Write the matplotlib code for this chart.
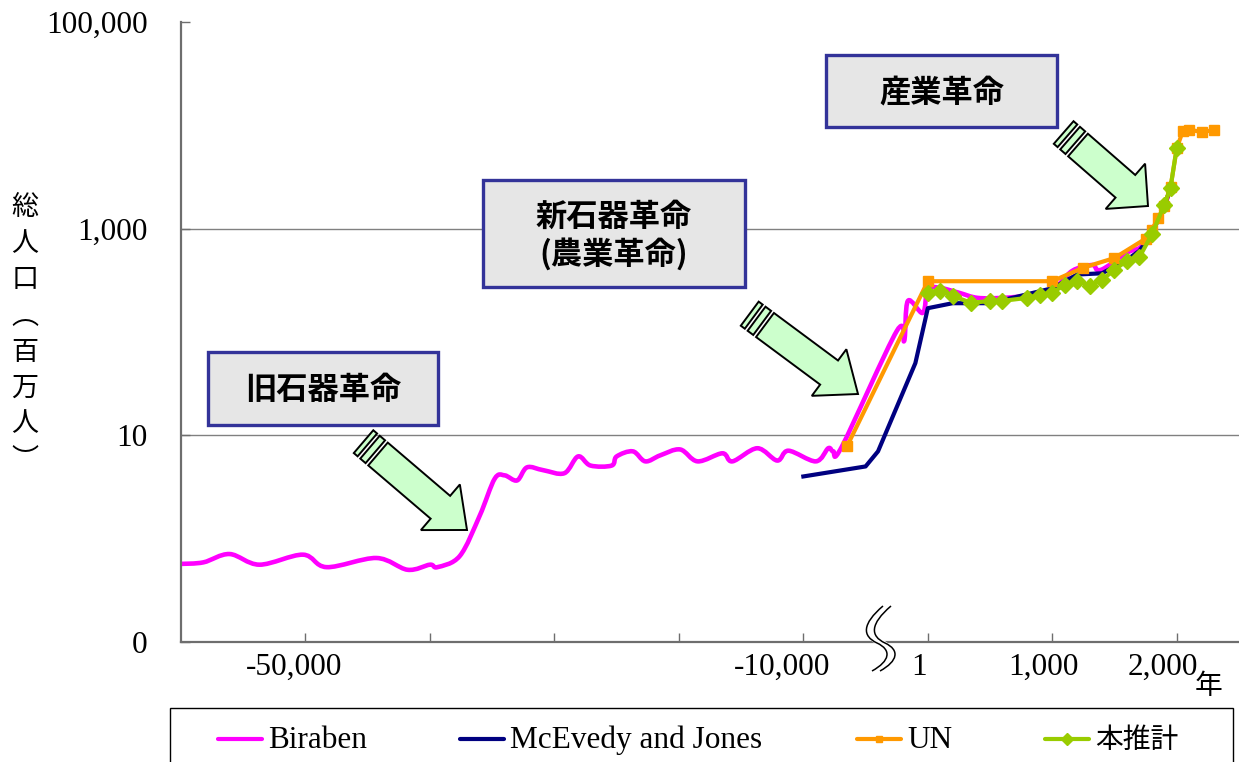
import matplotlib
matplotlib.use("Agg")
import matplotlib.pyplot as plt
import numpy as np
from matplotlib.lines import Line2D
from matplotlib.patches import PathPatch, Polygon, Rectangle
from matplotlib.path import Path
from matplotlib.transforms import Affine2D, ScaledTranslation

W, H, DPI = 1239, 762, 100

# population in millions, years (negative = BC)
biraben_year = [-60000, -58200, -56100, -53700, -50200, -48300, -44300, -41800, -40000, -39400,
                -37600, -36000, -34800, -34000, -33000, -32200, -30900, -29200, -28100, -27100,
                -25400, -25000, -23700, -22700, -21500, -19900, -18500, -16500, -15700, -13700,
                -12100, -11200, -9000, -8000, -7600, -6900, -2500, -1900, -1600, -400,
                1, 100, 250, 400, 600, 800, 1000, 1160, 1320, 1360,
                1420, 1600, 1700, 1750, 1800, 1850, 1900, 1950]
biraben_pop = [0.57, 0.59, 0.71, 0.56, 0.70, 0.53, 0.65, 0.50, 0.56, 0.53,
               0.68, 1.67, 3.8, 4.1, 3.66, 4.9, 4.6, 4.3, 6.25, 5.1,
               5.1, 6.25, 7.0, 5.6, 6.4, 7.3, 5.6, 6.7, 5.6, 7.5,
               5.7, 7.1, 5.6, 7.5, 7.0, 7.8, 102, 82, 200, 153,
               260, 267, 240, 214, 214, 225, 255, 390, 445, 400,
               415, 585, 650, 770, 950, 1240, 1630, 2500]

mcevedy_year = [-10000, -5000, -4000, -1000, 1, 200, 500, 1000, 1200, 1400, 1600, 1700, 1800, 1900, 1950]
mcevedy_pop = [4.0, 5.0, 7.0, 50, 170, 190, 190, 265, 360, 370, 500, 610, 900, 1625, 2500]

un_year = [-6500, 1, 1000, 1250, 1500, 1750, 1800, 1850, 1900, 1950, 2000, 2050, 2100, 2200, 2300]
un_pop = [7.8, 310, 310, 420, 520, 800, 980, 1260, 1650, 2520, 6000, 8900, 9100, 8600, 9000]

est_year = [1, 100, 200, 350, 500, 600, 800, 900, 1000, 1100, 1200, 1300, 1400, 1500, 1600,
            1700, 1800, 1900, 1950, 2000]
est_pop = [240, 250, 224, 191, 200, 200, 214, 228, 240, 286, 313, 280, 320, 400, 490,
           530, 880, 1700, 2500, 6100]

x_ticks = [-50000, -40000, -30000, -20000, -10000, 1, 1000, 2000]
x_tick_labels = ["-50,000", "", "", "", "-10,000", "1", "1,000", "2,000"]
x_label_nudge = [-11, 0, 0, 0, -21, -9, -9, -14]  # px
y_ticks = [0.1, 10, 1000, 100000]
y_tick_labels = ["0", "10", "1,000", "100,000"]

series_names = ["Biraben", "McEvedy and Jones", "UN", "本推計"]

# broken time axis: 10,000-year steps, then a gap, then 1,000-year steps
YEAR_BREAKS = [-60000, -10000, 1, 2000, 3000]
AXIS_UNITS = [0, 5, 6, 8, 9]


def year_to_axis(x):
    return np.interp(x, YEAR_BREAKS, AXIS_UNITS)


def axis_to_year(u):
    return np.interp(u, AXIS_UNITS, YEAR_BREAKS)


def smooth_path(years, values):
    # Excel-style smoothed line: Catmull-Rom segments as cubic Beziers,
    # built in the scaled (axis, log10) space and mapped back to data.
    p = np.column_stack([year_to_axis(np.asarray(years, float)), np.log10(values)])
    p = np.vstack([p[0], p, p[-1]])
    verts = [p[1]]
    codes = [Path.MOVETO]
    for i in range(1, len(p) - 2):
        c1 = p[i] + (p[i + 1] - p[i - 1]) / 6.0
        c2 = p[i + 1] - (p[i + 2] - p[i]) / 6.0
        verts += [c1, c2, p[i + 1]]
        codes += [Path.CURVE4] * 3
    verts = np.asarray(verts)
    data = np.column_stack([axis_to_year(verts[:, 0]), 10 ** verts[:, 1]])
    return Path(data, codes)


SERIF = "Liberation Serif"
JP = ["Noto Sans CJK JP", "DejaVu Sans"]
C_BIR, C_MCE, C_UN, C_EST = "#FF00FF", "#000080", "#FF9900", "#99CC00"
GRAY = "#6e6e6e"

fig = plt.figure(figsize=(W / DPI, H / DPI), dpi=DPI)
PIX = Affine2D().scale(1.0 / W, -1.0 / H).translate(0, 1) + fig.transFigure

ax = fig.add_axes([181 / W, 1 - 642 / H, (W - 181) / W, (642 - 22) / H])
ax.set_xscale("function", functions=(year_to_axis, axis_to_year))
ax.set_yscale("log")
ax.set_xlim(-60000, 2500)
ax.set_ylim(0.1, 100000)

for v in (10, 1000):
    ax.axhline(v, color="#808080", lw=1.0, zorder=0)

ax.add_patch(PathPatch(smooth_path(biraben_year, biraben_pop), fc="none", ec=C_BIR, lw=3.3,
                       joinstyle="round", capstyle="round", zorder=2))
ax.plot(mcevedy_year, mcevedy_pop, color=C_MCE, lw=3.0, solid_joinstyle="round", zorder=3)
ax.plot(un_year, un_pop, color=C_UN, lw=3.0, marker="s", ms=7, mec=C_UN, zorder=4)
ax.plot(est_year, est_pop, color=C_EST, lw=3.0, marker="D", ms=8.2, mec=C_EST, zorder=5)

for side in ("top", "right"):
    ax.spines[side].set_visible(False)
for side in ("left", "bottom"):
    ax.spines[side].set_color(GRAY)
    ax.spines[side].set_linewidth(1.6)

ax.minorticks_off()
ax.set_yticks(y_ticks, y_tick_labels)
ax.set_xticks(x_ticks, x_tick_labels)
ax.tick_params(axis="y", direction="in", length=6.5, width=1, color=GRAY, pad=24,
               labelsize=22.5, labelfontfamily=SERIF)
ax.tick_params(axis="x", direction="in", length=6.5, width=1, color=GRAY, pad=8,
               labelsize=22.5, labelfontfamily=SERIF)
for lbl, dx in zip(ax.get_xticklabels(), x_label_nudge):
    lbl.set_transform(lbl.get_transform() + ScaledTranslation(dx / DPI, 0, fig.dpi_scale_trans))

# axis break mark on the time axis
brk = Path([(883, 606), (862, 624), (862, 636), (877, 643), (892, 650), (890, 661), (872, 671)],
           [Path.MOVETO, Path.CURVE4, Path.CURVE4, Path.CURVE4, Path.CURVE4, Path.CURVE4, Path.CURVE4])
for dx, col, lw in ((4, "white", 5.0), (0, "black", 1.1), (8, "black", 1.1)):
    p = brk.transformed(Affine2D().translate(dx, 0))
    fig.add_artist(PathPatch(p, transform=PIX, fc="none", ec=col, lw=lw, clip_on=False, zorder=6))

# axis titles
fig.text(25, 334, "総\n人\n口\n︵\n百\n万\n人\n︶", transform=PIX, ha="center", va="center",
         fontsize=19.5, family=JP, linespacing=1.43)
fig.text(1209, 686, "年", transform=PIX, ha="center", va="center", fontsize=20, family=JP)

# labelled boxes
boxes = [((208, 352, 438, 425), "旧石器革命"),
         ((483, 180, 745, 287), "新石器革命\n(農業革命)"),
         ((826, 55, 1057, 127), "産業革命")]
for (x0, y0, x1, y1), txt in boxes:
    fig.add_artist(Rectangle((x0, y0), x1 - x0, y1 - y0, transform=PIX, fc="#E6E6E6",
                             ec="#333399", lw=2.4, zorder=7))
    fig.text((x0 + x1) / 2, (y0 + y1) / 2 + 2, txt, transform=PIX, ha="center", va="center",
             fontsize=22.5, weight="bold", family=JP, linespacing=1.2, zorder=8)


def striped_arrow(tail, tip, shaft_w, head_w, head_len):
    p0 = np.asarray(tail, float)
    p1 = np.asarray(tip, float)
    d = (p1 - p0) / np.linalg.norm(p1 - p0)
    n = np.array([-d[1], d[0]])
    base = p1 - d * head_len
    body = [p0 + n * shaft_w / 2, base + n * shaft_w / 2, base + n * head_w / 2, p1,
            base - n * head_w / 2, base - n * shaft_w / 2, p0 - n * shaft_w / 2]
    fig.add_artist(Polygon(body, closed=True, transform=PIX, fc="#CCFFCC", ec="black",
                           lw=1.4, joinstyle="miter", zorder=7))
    for a, b in ((3.5, 10.5), (14, 19)):
        s = [p0 - d * a + n * shaft_w / 2, p0 - d * b + n * shaft_w / 2,
             p0 - d * b - n * shaft_w / 2, p0 - d * a - n * shaft_w / 2]
        fig.add_artist(Polygon(s, closed=True, transform=PIX, fc="#CCFFCC", ec="black",
                               lw=1.4, zorder=7))


striped_arrow((378, 454), (467, 530), 30, 60, 35)
striped_arrow((765, 325), (858, 394), 30, 58, 36)
striped_arrow((1078, 145), (1148, 206), 30, 60, 30)

# legend strip below the chart
fig.add_artist(Rectangle((170, 708), 1063, 70, transform=PIX, fc="white", ec="black",
                         lw=1.0, clip_on=False))
legend_specs = [(218, C_BIR, None, 0, SERIF), (460, C_MCE, None, 0, SERIF),
                (857, C_UN, "s", 5, SERIF), (1045, C_EST, "D", 6.5, JP)]
for (x0, col, mk, ms, fam), name in zip(legend_specs, series_names):
    fig.add_artist(Line2D([x0, x0 + 44], [739, 739], transform=PIX, color=col, lw=3.0,
                          solid_capstyle="round"))
    if mk:
        fig.add_artist(Line2D([x0 + 22], [739], transform=PIX, color=col, marker=mk, ms=ms,
                              mec=col, lw=0))
    fig.text(x0 + 50, 740, name, transform=PIX, ha="left", va="center",
             fontsize=22.5 if fam == SERIF else 20, family=fam)

fig.savefig("out.png", dpi=DPI)
